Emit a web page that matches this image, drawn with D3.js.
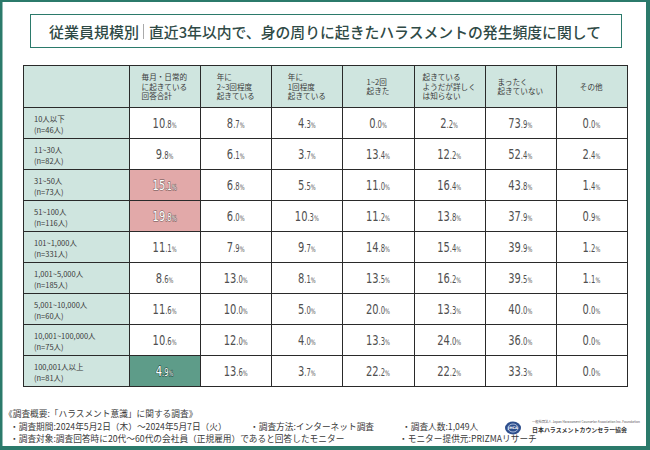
<!DOCTYPE html>
<html><head><meta charset="utf-8">
<script src="https://cdn.jsdelivr.net/npm/d3@7"></script>
<style>
html,body{margin:0;padding:0;background:#fff;}
svg{display:block;}
</style></head>
<body>
<svg id="chart" width="650" height="450"></svg>
<script>
const title = "直近3年以内で、身の周りに起きたハラスメントの発生頻度に関して";
const titleLead = "従業員規模別";
const columns = [
  ["毎月・日常的","に起きている","回答合計"],
  ["年に","2~3回程度","起きている"],
  ["年に","1回程度","起きている"],
  ["1~2回","起きた"],
  ["起きている","ようだが詳しく","は知らない"],
  ["まったく","起きていない"],
  ["その他"]
];
const categories = [
  ["10人以下","(n=46人)"],
  ["11~30人","(n=82人)"],
  ["31~50人","(n=73人)"],
  ["51~100人","(n=116人)"],
  ["101~1,000人","(n=331人)"],
  ["1,001~5,000人","(n=185人)"],
  ["5,001~10,000人","(n=60人)"],
  ["10,001~100,000人","(n=75人)"],
  ["100,001人以上","(n=81人)"]
];
const monthly   = [10.8, 9.8, 15.1, 19.8, 11.1, 8.6, 11.6, 10.6, 4.9];
const twoThree  = [8.7, 6.1, 6.8, 6.0, 7.9, 13.0, 10.0, 12.0, 13.6];
const oncePerYr = [4.3, 3.7, 5.5, 10.3, 9.7, 8.1, 5.0, 4.0, 3.7];
const oneTwo    = [0.0, 13.4, 11.0, 11.2, 14.8, 13.5, 20.0, 13.3, 22.2];
const unsure    = [2.2, 12.2, 16.4, 13.8, 15.4, 16.2, 13.3, 24.0, 22.2];
const never     = [73.9, 52.4, 43.8, 37.9, 39.9, 39.5, 40.0, 36.0, 33.3];
const other     = [0.0, 2.4, 1.4, 0.9, 1.2, 1.1, 0.0, 0.0, 0.0];
const series = [monthly, twoThree, oncePerYr, oneTwo, unsure, never, other];
// highlight flags: [column, row, kind]
const highlights = [[0,2,"high"],[0,3,"high"],[0,8,"low"]];
const notes = [
  ["《調査概要:「ハラスメント意識」に関する調査》"],
  ["・調査期間:2024年5月2日（木）～2024年5月7日（火）","・調査方法:インターネット調査","・調査人数:1,049人"],
  ["・調査対象:調査回答時に20代～60代の会社員（正規雇用）であると回答したモニター","・モニター提供元:PRIZMAリサーチ"]
];
const orgName = "日本ハラスメントカウンセラー協会";
const orgSub = "一般社団法人 Japan Harassment Counselor Association Inc. Foundation";

const JP = "'Noto Sans CJK JP','Noto Sans',sans-serif";
const NUM = "'Liberation Sans Narrow','DejaVu Sans Condensed','Roboto',sans-serif";
const GREEN = "#2b7a6b", HEAD = "#cfe5df", GRID = "#2a2a2a";

const svg = d3.select("#chart");
// frame
svg.append("rect").attr("width",650).attr("height",450).attr("fill",GREEN);
svg.append("rect").attr("x",2.5).attr("y",2).attr("width",643.5).attr("height",444).attr("fill","#fff");

// title box
svg.append("rect").attr("x",30.5).attr("y",14.5).attr("width",591).attr("height",33)
  .attr("fill","#fff").attr("stroke",GREEN).attr("stroke-width",1);
svg.append("text").attr("x",49).attr("y",31.5).attr("dominant-baseline","central")
  .attr("font-family",JP).attr("font-size",15).attr("font-weight",500).attr("fill","#2f4a46")
  .text(titleLead);
svg.append("line").attr("x1",143.5).attr("x2",143.5).attr("y1",24).attr("y2",39)
  .attr("stroke","#aaa").attr("stroke-width",1);
svg.append("text").attr("x",149).attr("y",31.5).attr("dominant-baseline","central")
  .attr("font-family",JP).attr("font-size",15).attr("font-weight",500).attr("fill","#2f4a46")
  .attr("textLength",452).attr("lengthAdjust","spacingAndGlyphs")
  .text(title);

// table geometry
const tableLeft = 23, firstColRight = 129, tableRight = 627;
const headTop = 65, headBottom = 107, tableBottom = 386;
const x = d3.scaleBand().domain(d3.range(columns.length)).range([firstColRight, tableRight]);
const y = d3.scaleBand().domain(d3.range(categories.length)).range([headBottom, tableBottom]);

const g = svg.append("g");
// backgrounds
g.append("rect").attr("x",tableLeft).attr("y",headTop).attr("width",tableRight-tableLeft)
  .attr("height",headBottom-headTop).attr("fill",HEAD);
g.append("rect").attr("x",tableLeft).attr("y",headBottom).attr("width",firstColRight-tableLeft)
  .attr("height",tableBottom-headBottom).attr("fill",HEAD);
const hlColor = {high:"#e2a9a9", low:"#5e9c89"};
g.selectAll("rect.hl").data(highlights).join("rect").attr("class","hl")
  .attr("x",d=>x(d[0])).attr("y",d=>y(d[1])).attr("width",x.bandwidth()).attr("height",y.bandwidth())
  .attr("fill",d=>hlColor[d[2]]);

// grid lines
const vxs = [tableLeft, firstColRight, ...d3.range(1,columns.length).map(i=>x(i)), tableRight];
const hys = [headTop, headBottom, ...d3.range(1,categories.length).map(i=>y(i)), tableBottom];
g.selectAll("line.v").data(vxs).join("line").attr("class","v")
  .attr("x1",d=>Math.round(d)+0.5).attr("x2",d=>Math.round(d)+0.5)
  .attr("y1",headTop).attr("y2",tableBottom+0.5).attr("stroke",GRID).attr("stroke-width",1);
g.selectAll("line.h").data(hys).join("line").attr("class","h")
  .attr("y1",d=>Math.round(d)+0.5).attr("y2",d=>Math.round(d)+0.5)
  .attr("x1",tableLeft).attr("x2",tableRight+1).attr("stroke",GRID).attr("stroke-width",1);

// header labels: centered block, left-aligned lines
const headMid = (headTop+headBottom)/2;
columns.forEach((lines,i)=>{
  const t = g.append("text").attr("font-family",JP).attr("font-size",7.6).attr("fill","#3a3a3a");
  const n = lines.length;
  lines.forEach((ln,j)=>{
    t.append("tspan").attr("x",0).attr("y",headMid + (j-(n-1)/2)*9.6)
      .attr("dominant-baseline","central").text(ln);
  });
  const w = t.node().getBBox().width;
  const cx = x(i) + x.bandwidth()/2;
  t.attr("transform",`translate(${cx - w/2},0)`);
});

// row labels
categories.forEach((lines,r)=>{
  const cy = y(r) + y.bandwidth()/2;
  const t = g.append("text").attr("font-family",JP).attr("font-size",7.5).attr("fill","#3a3a3a");
  t.append("tspan").attr("x",tableLeft+11).attr("y",cy-4).attr("dominant-baseline","central").text(lines[0]);
  t.append("tspan").attr("x",tableLeft+11).attr("y",cy+7).attr("dominant-baseline","central").text(lines[1]);
});

// values
const hlMap = new Map(highlights.map(h=>[h[0]+"-"+h[1],h[2]]));
series.forEach((vals,c)=>{
  vals.forEach((v,r)=>{
    const s = v.toFixed(1);
    const [ip, dp] = s.split(".");
    const cx = x(c) + x.bandwidth()/2;
    const cy = y(r) + y.bandwidth()/2;
    const hl = hlMap.get(c+"-"+r);
    const t = g.append("text").attr("x",0).attr("y",0).attr("text-anchor","middle")
      .attr("transform",`translate(${cx},${cy+5}) scale(0.76,1)`)
      .attr("font-family",NUM).attr("fill", hl ? "#fff" : "#505050");
    if (hl) t.attr("stroke", hl==="low" ? "#2f5a4e" : "#8a6a6a").attr("stroke-width",1.4)
      .attr("paint-order","stroke").attr("stroke-linejoin","round");
    t.append("tspan").attr("font-size",14.5).text(ip);
    t.append("tspan").attr("font-size",10).text("."+dp);
    t.append("tspan").attr("font-size",7.5).text("%");
  });
});

// notes
const noteX = [[4],[10,250,402],[10,399]];
const noteY = [413, 426.5, 438];
notes.forEach((line,i)=>{
  line.forEach((txt,j)=>{
    svg.append("text").attr("x",noteX[i][j]).attr("y",noteY[i]).attr("dominant-baseline","central")
      .attr("font-family",JP).attr("font-size",8.7).attr("fill","#3a3a3a").text(txt);
  });
});

// logo
svg.append("ellipse").attr("cx",513).attr("cy",428).attr("rx",8).attr("ry",6.5).attr("fill","#2d4e8c");
svg.append("ellipse").attr("cx",513).attr("cy",428).attr("rx",5).attr("ry",4).attr("fill","none")
  .attr("stroke","#c9d6ee").attr("stroke-width",0.8);
svg.append("text").attr("x",513).attr("y",428.3).attr("text-anchor","middle").attr("dominant-baseline","central")
  .attr("font-family","DejaVu Sans").attr("font-size",3.6).attr("font-weight","bold").attr("fill","#fff").text("JHCA");
svg.append("text").attr("x",532).attr("y",421).attr("dominant-baseline","central")
  .attr("font-family",JP).attr("font-size",3.4).attr("fill","#555")
  .attr("textLength",108).attr("lengthAdjust","spacingAndGlyphs").text(orgSub);
svg.append("text").attr("x",532).attr("y",429).attr("dominant-baseline","central")
  .attr("font-family",JP).attr("font-size",6).attr("font-weight",700).attr("fill","#333")
  .attr("textLength",95).attr("lengthAdjust","spacingAndGlyphs").text(orgName);
</script>
</body></html>
